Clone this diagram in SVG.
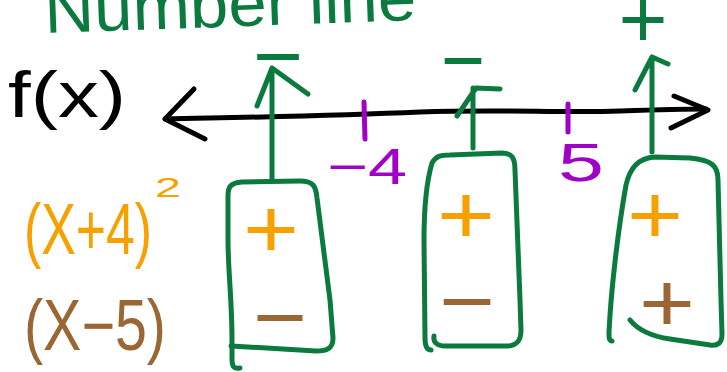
<svg xmlns="http://www.w3.org/2000/svg" width="727" height="372" viewBox="0 0 727 372">
  <style>
    .ink { fill: none; stroke-linecap: round; stroke-linejoin: round; stroke-width: 5; }
    .green { stroke: #0b7a3e; }
    .black { stroke: #000000; }
    .purple { stroke: #a100c6; }
    .hand { font-family: "Liberation Sans", Arial, sans-serif; }
    .tg { fill: #0b7a3e; }
    .to { fill: #f7a100; }
    .tb { fill: #9a6634; }
    .tp { fill: #a100c6; }
    .tk { fill: #000000; }
    .sign { font-size: 84px; text-anchor: middle; }
  </style>

  <rect width="727" height="372" fill="#ffffff"/>

  <!-- title -->
  <g id="title">
    <text class="hand tg" x="45" y="33" font-size="66" textLength="372" lengthAdjust="spacingAndGlyphs" transform="rotate(-2 45 33)">Number line</text>
  </g>

  <!-- row labels -->
  <g id="label-fx">
    <text class="hand tk" x="8" y="117" font-size="64" textLength="118" lengthAdjust="spacingAndGlyphs">f(x)</text>
  </g>
  <g id="label-x-plus-4">
    <text class="hand to" x="24" y="254" font-size="72" textLength="128" lengthAdjust="spacingAndGlyphs">(X+4)</text>
    <text class="hand to" x="155" y="197" font-size="28" textLength="26" lengthAdjust="spacingAndGlyphs">2</text>
  </g>
  <g id="label-x-minus-5">
    <text class="hand tb" x="24" y="350" font-size="72" textLength="142" lengthAdjust="spacingAndGlyphs">(X−5)</text>
  </g>

  <!-- number line with critical points -->
  <g id="number-line">
    <path class="ink black" d="M165,119 C260,117 330,116 420,112 C500,109 560,113 620,111 C650,110 680,109 706,109"/>
    <path class="ink black" d="M194,89 L165,119 L205,139"/>
    <path class="ink black" d="M674,96 L708,110 L671,128"/>
  </g>
  <g id="point-minus-4">
    <path class="ink purple" d="M364,102 L365,139"/>
    <text class="hand tp" x="327" y="184" font-size="50" textLength="80" lengthAdjust="spacingAndGlyphs">−4</text>
  </g>
  <g id="point-5">
    <path class="ink purple" d="M568,104 L568,132"/>
    <text class="hand tp" x="558" y="181" font-size="54" textLength="46" lengthAdjust="spacingAndGlyphs">5</text>
  </g>

  <!-- interval boxes -->
  <g id="interval-left">
    <path class="ink green" d="M240,368 C233,369 232,366 232,358 L232,340 C232,300 228,270 228,240 L228,196 C228,186 231,183 242,182 L300,181 C313,181 316,186 317,198 L330,300 L333,338 C333,348 328,351 316,351 L231,346"/>
    <text class="hand sign to" x="271" y="257" textLength="56" lengthAdjust="spacingAndGlyphs">+</text>
    <text class="hand sign tb" x="280" y="346" textLength="54" lengthAdjust="spacingAndGlyphs">−</text>
  </g>
  <g id="interval-middle">
    <path class="ink green" d="M431,350 C427,350 425,346 425,338 L424,240 C424,200 427,180 432,163 C436,156 440,155 450,155 L502,153 C512,153 515,158 515,170 L520,300 L521,330 C521,342 516,346 506,346 L445,346 C437,346 433,342 434,336"/>
    <text class="hand sign to" x="466" y="243" textLength="58" lengthAdjust="spacingAndGlyphs">+</text>
    <text class="hand sign tb" x="467" y="330" textLength="56" lengthAdjust="spacingAndGlyphs">−</text>
  </g>
  <g id="interval-right">
    <path class="ink green" d="M612,341 C609,341 609,338 609,332 C611,290 618,230 626,185 C630,168 638,158 655,157 L690,158 C712,160 718,166 718,180 L721,300 L722,334 C722,343 718,346 710,345 L670,339 C650,336 638,330 630,320"/>
    <text class="hand sign to" x="655" y="243" textLength="56" lengthAdjust="spacingAndGlyphs">+</text>
    <text class="hand sign tb" x="667" y="331" textLength="56" lengthAdjust="spacingAndGlyphs">+</text>
  </g>

  <!-- connectors: sign of f(x) on each interval -->
  <g id="connectors">
    <path class="ink green" d="M272,180 L272,68 M257,106 L272,68 L308,94"/>
    <path class="ink green" d="M473,148 L473,88 M457,116 L476,88 L500,89"/>
    <path class="ink green" d="M652,152 L652,57 M635,90 L652,57 L668,64"/>
  </g>
  <g id="signs-fx">
    <text class="hand sign tg" x="278" y="85" textLength="50" lengthAdjust="spacingAndGlyphs">−</text>
    <text class="hand sign tg" x="463" y="89" textLength="44" lengthAdjust="spacingAndGlyphs">−</text>
    <text class="hand sign tg" x="643" y="47" font-size="70">+</text>
  </g>
</svg>
